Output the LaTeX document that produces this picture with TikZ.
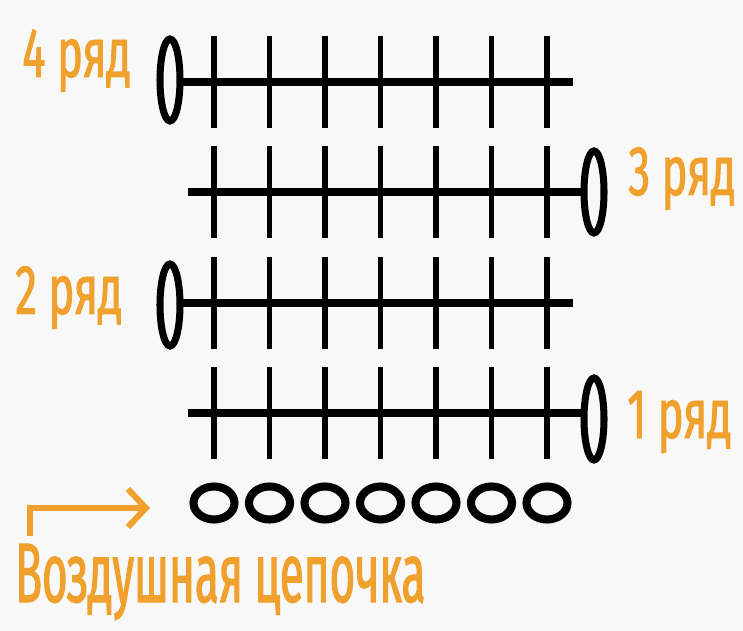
\documentclass[tikz,border=0pt]{standalone}
\usepackage{fontspec}
\usepackage{tikz}
\usetikzlibrary{arrows.meta}
\newfontfamily\labelfont[FakeStretch=0.62, FakeBold=1.3]{Fira Sans}
\newfontfamily\chainfont[FakeStretch=0.52, FakeBold=1.3]{Fira Sans}
\definecolor{roworange}{RGB}{240,160,45}
\definecolor{paper}{RGB}{248,248,248}

\begin{document}
\begin{tikzpicture}[x=0.02cm, y=-0.02cm,
		post/.style={line width=3pt},
		bar/.style={line width=4.2pt},
		turn/.style={line width=4pt},
		chainloop/.style={line width=4.6pt},
		rowlabel/.style={anchor=base west, inner sep=0pt, text=roworange,
			font=\labelfont\fontsize{40}{48}\selectfont}]
		%%%%% START %%%%%
		\fill[paper] (0, 0) rectangle (743, 631);
		
		% rows of single crochet
		\foreach \y in {82, 192, 303, 413}
		\foreach \x in {214, 269.5, 325, 380.5, 436, 491.5, 547}
		\draw[post] (\x, \y-46) -- (\x, \y+46);
		
		\draw[bar] (183, 82) -- (573, 82);
		\draw[bar] (188, 192) -- (582, 192);
		\draw[bar] (183, 303) -- (573, 303);
		\draw[bar] (188, 413) -- (582, 413);
		
		% turning chains
		\draw[turn] (170, 80) ellipse (10 and 41);
		\draw[turn] (594, 192) ellipse (10 and 41);
		\draw[turn] (170, 305) ellipse (10 and 41);
		\draw[turn] (594, 419) ellipse (10 and 41);
		
		% foundation chain
		\foreach \x in {214, 269.5, 325, 380.5, 436, 491.5, 547}
		\draw[chainloop] (\x, 503) ellipse (20.5 and 16.5);
		
		\node[rowlabel] (row4) at (22, 77) {4 ряд};
		\node[rowlabel] (row3) at (628, 195) {3 ряд};
		\node[rowlabel] (row2) at (15, 314) {2 ряд};
		\node[rowlabel] (row1) at (627, 438) {1 ряд};
		
		\coordinate (arrowstart) at (30, 536);
		\coordinate (arrowend) at (150, 508);
		\draw[roworange, line width=3.4pt, -{Straight Barb[length=0.36cm, width=0.76cm]}]
		(arrowstart) |- (arrowend);
		
		\node[rowlabel, font=\chainfont\fontsize{48}{56}\selectfont] (chain) at (15, 602) {Воздушная цепочка};
		%%%%% END %%%%%
	\end{tikzpicture}
\end{document}
